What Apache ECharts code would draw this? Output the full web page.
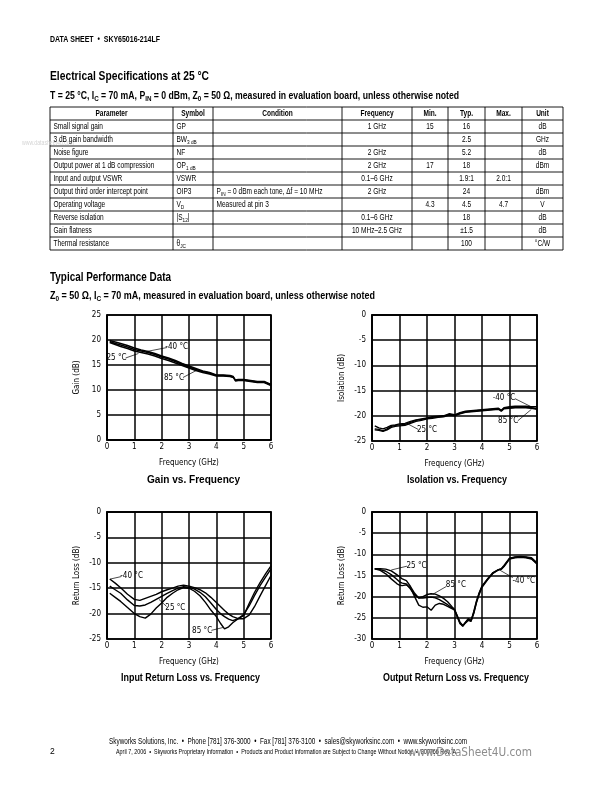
<!DOCTYPE html>
<html><head><meta charset="utf-8">
<script src="https://cdn.jsdelivr.net/npm/echarts@6/dist/echarts.min.js"></script>
<style>html,body{margin:0;padding:0;background:#fff}#c{width:612px;height:792px}</style>
</head><body><div id="c"></div><script>
// ---------------- DATA ----------------
const tableHeader = ["Parameter","Symbol","Condition","Frequency","Min.","Typ.","Max.","Unit"];
const tableParams = ["Small signal gain","3 dB gain bandwidth","Noise figure","Output power at 1 dB compression","Input and output VSWR","Output third order intercept point","Operating voltage","Reverse isolation","Gain flatness","Thermal resistance"];
const tableSymbols = ["GP","BW{sub|3 dB}","NF","OP{sub|1 dB}","VSWR","OIP3","V{sub|D}","|S{sub|12}|","","θ{sub|JC}"];
const tableConditions = ["","","","","","P{sub|IN} = 0 dBm each tone, Δf = 10 MHz","Measured at pin 3","","",""];
const tableFreq = ["1 GHz","","2 GHz","2 GHz","0.1–6 GHz","2 GHz","","0.1–6 GHz","10 MHz–2.5 GHz",""];
const tableMin = ["15","","","17","","","4.3","","",""];
const tableTyp = ["16","2.5","5.2","18","1.9:1","24","4.5","18","±1.5","100"];
const tableMax = ["","","","","2.0:1","","4.7","","",""];
const tableUnit = ["dB","GHz","dB","dBm","","dBm","V","dB","dB","°C/W"];

const freqTicks = [0,1,2,3,4,5,6];

const gainFreq = [0.1,0.3,0.5,0.75,1.0,1.25,1.5,1.75,2.0,2.25,2.5,2.75,3.0,3.25,3.5,3.75,4.0,4.25,4.5,4.62,4.7,4.8,5.0,5.25,5.5,5.75,6.0];
const gainM40 = [19.9,19.6,19.3,18.9,18.4,18.0,17.7,17.3,16.8,16.4,15.9,15.3,14.8,14.3,13.8,13.5,13.0,13.0,12.9,12.7,12.0,12.1,12.1,11.9,11.7,11.7,11.1];
const gain25 = [19.7,19.3,19.0,18.6,18.1,17.8,17.5,17.1,16.6,16.2,15.7,15.1,14.6,14.1,13.7,13.4,12.9,12.9,12.8,12.6,11.9,12.0,12.0,11.8,11.6,11.6,11.0];
const gain85 = [19.5,19.1,18.7,18.3,17.8,17.5,17.2,16.8,16.3,15.9,15.4,14.9,14.4,13.9,13.5,13.2,12.8,12.8,12.7,12.5,11.8,11.9,11.9,11.7,11.5,11.5,10.9];

const isoFreq = [0.1,0.25,0.4,0.55,0.7,0.85,1.0,1.2,1.4,1.6,1.8,2.0,2.2,2.4,2.6,2.8,3.0,3.2,3.4,3.6,3.8,4.0,4.2,4.4,4.6,4.7,4.8,5.0,5.2,5.4,5.6,5.8,6.0];
const isoM40 = [-22.0,-22.4,-22.6,-22.3,-21.9,-21.8,-21.6,-21.5,-21.1,-20.8,-20.6,-20.4,-20.2,-20.1,-20.0,-19.6,-19.8,-19.4,-19.1,-19.0,-18.9,-18.8,-18.7,-18.6,-18.5,-18.9,-18.4,-18.2,-18.1,-18.1,-18.1,-18.2,-18.2];
const iso25 = [-22.6,-22.7,-23.0,-22.6,-22.1,-21.9,-21.8,-21.7,-21.3,-20.9,-20.7,-20.5,-20.3,-20.2,-20.1,-19.7,-19.9,-19.5,-19.2,-19.1,-19.0,-18.9,-18.8,-18.7,-18.6,-19.0,-18.5,-18.4,-18.3,-18.3,-18.3,-18.4,-18.6];
const iso85 = [-22.8,-22.9,-23.1,-22.8,-22.3,-22.1,-22.0,-21.9,-21.5,-21.1,-20.9,-20.6,-20.5,-20.3,-20.2,-19.9,-20.0,-19.6,-19.3,-19.2,-19.1,-19.0,-18.9,-18.8,-18.7,-19.1,-18.6,-18.5,-18.4,-18.4,-18.4,-18.5,-18.7];

const inFreq = [0.1,0.3,0.5,0.75,1.0,1.2,1.4,1.6,1.8,2.0,2.2,2.4,2.6,2.8,3.0,3.2,3.4,3.6,3.8,4.0,4.15,4.3,4.45,4.6,4.8,5.0,5.2,5.4,5.6,5.8,6.0];
const inM40 = [-13.2,-14.0,-14.9,-16.2,-17.2,-17.4,-17.0,-16.6,-16.2,-15.7,-15.3,-15.0,-14.6,-14.4,-14.6,-14.9,-15.3,-15.9,-16.8,-17.8,-18.6,-19.4,-20.1,-20.6,-21.0,-21.0,-20.3,-18.6,-16.5,-14.5,-12.5];
const in25 = [-14.6,-15.3,-16.0,-17.3,-18.4,-18.5,-18.3,-17.8,-17.2,-16.6,-16.0,-15.5,-15.0,-14.7,-14.8,-15.2,-15.8,-16.7,-17.9,-19.2,-20.0,-20.6,-21.1,-21.4,-21.0,-20.2,-18.5,-16.4,-14.5,-12.8,-11.2];
const in85 = [-16.0,-16.8,-17.6,-18.8,-20.0,-20.6,-20.9,-20.1,-18.9,-17.9,-16.8,-16.0,-15.3,-14.9,-15.0,-15.6,-16.5,-17.8,-19.3,-20.6,-21.9,-23.0,-22.6,-21.8,-21.0,-20.4,-18.0,-15.8,-13.9,-12.2,-10.6];

const outFreq = [0.1,0.3,0.5,0.7,0.9,1.0,1.1,1.25,1.4,1.55,1.7,1.85,2.0,2.15,2.3,2.45,2.6,2.75,2.9,3.0,3.1,3.2,3.3,3.4,3.5,3.6,3.7,3.8,3.9,4.0,4.2,4.4,4.6,4.7,4.8,5.0,5.2,5.4,5.6,5.8,6.0];
const out25 = [-13.4,-13.4,-13.5,-13.9,-14.8,-15.3,-15.8,-16.2,-17.6,-19.2,-20.3,-20.0,-19.5,-19.3,-19.4,-19.8,-20.4,-21.2,-22.3,-23.0,-24.5,-26.0,-26.8,-26.2,-25.6,-25.8,-23.5,-21.0,-19.0,-17.5,-15.8,-14.3,-13.6,-13.4,-12.6,-10.9,-10.6,-10.5,-10.6,-10.8,-12.0];
const out85 = [-13.4,-13.6,-14.0,-14.8,-15.9,-16.5,-16.8,-17.0,-18.2,-19.6,-20.3,-20.3,-20.2,-20.1,-20.3,-20.7,-21.3,-21.9,-22.6,-23.1,-24.6,-26.2,-27.0,-26.1,-25.3,-25.8,-24.0,-21.2,-19.2,-17.6,-15.9,-14.4,-13.7,-13.5,-12.8,-11.0,-10.7,-10.6,-10.7,-11.0,-12.2];
const outM40 = [-13.4,-13.8,-14.6,-15.8,-16.9,-17.3,-17.4,-17.2,-17.9,-20.0,-22.0,-22.5,-22.4,-23.2,-22.0,-21.6,-21.8,-22.3,-22.8,-23.2,-24.8,-26.4,-26.9,-26.0,-25.2,-25.6,-23.8,-21.4,-19.4,-17.8,-16.0,-14.5,-13.6,-13.5,-12.9,-11.1,-10.8,-10.7,-10.8,-11.1,-12.3];

// annotations: [text, textX, textY, leaderFromX, leaderFromY, leaderToX, leaderToY] (data units)
const gainNotes = [["-40 °C",2.55,18.7,2.2,18.5,1.45,17.7],["25 °C",0.35,16.4,0.68,16.4,1.15,17.3],["85 °C",2.45,12.4,2.78,12.5,3.3,14.0]];
const isoNotes = [["-40 °C",4.8,-16.5,5.2,-16.6,5.75,-18.1],["85 °C",4.95,-21.0,5.3,-21.0,5.8,-18.7],["25 °C",2.0,-22.9,1.68,-22.7,1.3,-21.6]];
const inNotes = [["-40 °C",0.9,-12.5,0.53,-12.7,0.12,-13.2],["25 °C",2.5,-18.8,2.18,-18.6,1.9,-17.2],["85 °C",3.48,-23.4,3.82,-23.3,4.27,-22.7]];
const outNotes = [["25 °C",1.62,-12.7,1.27,-12.8,0.7,-13.7],["85 °C",3.05,-17.3,2.7,-17.6,2.22,-19.4],["-40 °C",5.52,-16.2,5.12,-15.5,4.64,-13.7]];

// ---------------- STYLE / LAYOUT ----------------
const FN = "'Liberation Sans Narrow','Arial Narrow','DejaVu Sans Condensed','Liberation Sans',sans-serif";
const HF = "'Liberation Sans',Arial,sans-serif";
const chart = echarts.init(document.getElementById('c'), null, {renderer:'canvas'});

const grids = [
  {left:107, top:315, width:164, height:125},
  {left:372, top:315, width:165, height:126},
  {left:107, top:512, width:164, height:127},
  {left:372, top:512, width:165, height:127}
];
const yCfg = [
  {min:0, max:25, name:'Gain (dB)'},
  {min:-25, max:0, name:'Isolation (dB)'},
  {min:-25, max:0, name:'Return Loss (dB)'},
  {min:-30, max:0, name:'Return Loss (dB)'}
];

function zip(xs, ys){ return xs.map((x,i)=>[x, ys[i]]); }

const xAxes = grids.map((g,i)=>({
  type:'value', gridIndex:i, min:freqTicks[0], max:freqTicks[freqTicks.length-1], interval:1,
  name:'Frequency (GHz)', nameLocation:'middle', nameGap:19,
  nameTextStyle:{fontFamily:FN, fontSize:8, color:'#000'},
  axisLine:{show:true, lineStyle:{color:'#000', width:1.5}},
  axisTick:{show:false},
  splitLine:{show:true, lineStyle:{color:'#000', width:1.5}},
  axisLabel:{fontFamily:FN, fontSize:8, color:'#000', margin:3}
}));
const yAxes = grids.map((g,i)=>({
  type:'value', gridIndex:i, min:yCfg[i].min, max:yCfg[i].max, interval:5,
  name:yCfg[i].name, nameLocation:'middle', nameGap:26, nameRotate:90,
  nameTextStyle:{fontFamily:FN, fontSize:8, color:'#000'},
  axisLine:{show:true, lineStyle:{color:'#000', width:1.5}},
  axisTick:{show:false},
  splitLine:{show:true, lineStyle:{color:'#000', width:1.5}},
  axisLabel:{fontFamily:FN, fontSize:8, color:'#000', margin:6}
}));

function lineSeries(gi, xs, ys, note){
  const s = {
    type:'line', xAxisIndex:gi, yAxisIndex:gi, data:zip(xs, ys), showSymbol:false, symbol:'none',
    lineStyle:{color:'#000', width:1.4}, animation:false, silent:true, z:3
  };
  if (note){
    s.markLine = {silent:true, symbol:['none','none'], animation:false,
      lineStyle:{color:'#000', width:0.7, type:'solid'}, label:{show:false},
      data:[[{coord:[note[3],note[4]]},{coord:[note[5],note[6]]}]]};
    s.markPoint = {silent:true, symbol:'circle', symbolSize:0, animation:false,
      label:{show:true, position:'inside', formatter:note[0], color:'#000', fontFamily:FN, fontSize:8},
      data:[{coord:[note[1],note[2]]}]};
  }
  return s;
}

const series = [
  lineSeries(0, gainFreq, gainM40, gainNotes[0]),
  lineSeries(0, gainFreq, gain25, gainNotes[1]),
  lineSeries(0, gainFreq, gain85, gainNotes[2]),
  lineSeries(1, isoFreq, isoM40, isoNotes[0]),
  lineSeries(1, isoFreq, iso85, isoNotes[1]),
  lineSeries(1, isoFreq, iso25, isoNotes[2]),
  lineSeries(2, inFreq, inM40, inNotes[0]),
  lineSeries(2, inFreq, in25, inNotes[1]),
  lineSeries(2, inFreq, in85, inNotes[2]),
  lineSeries(3, outFreq, out25, outNotes[0]),
  lineSeries(3, outFreq, out85, outNotes[1]),
  lineSeries(3, outFreq, outM40, outNotes[2])
];

// ------------- graphic text helpers -------------
const mctx = document.createElement('canvas').getContext('2d');
function tokens(text){
  const re = /\{(\w+)\|([^}]*)\}/g; const parts = []; let last = 0, m;
  while ((m = re.exec(text))){ if (m.index > last) parts.push(['n', text.slice(last, m.index)]); parts.push([m[1], m[2]]); last = re.lastIndex; }
  if (last < text.length) parts.push(['n', text.slice(last)]);
  return parts;
}
function T(x, y, text, o){
  o = o || {};
  const size = o.size || 8, weight = o.weight || 'normal', fam = o.family || HF;
  const subSize = Math.round(size*0.72*10)/10;
  const parts = tokens(text);
  const rt = parts.map(p => '{' + p[0] + '|' + p[1] + '}').join('');
  let sx = o.scale || 1;
  if (o.w){
    let w = 0;
    parts.forEach(p => { mctx.font = weight + ' ' + (p[0]==='sub'?subSize:size) + 'px ' + fam; w += mctx.measureText(p[1]).width; });
    sx = o.w / w;
  }
  return {type:'text', x:x, y:y, scaleX:sx, silent:true, z:10,
    style:{text:rt, fontFamily:fam, fontSize:size, fontWeight:weight, fill:o.color||'#000',
      textAlign:o.align||'left', textVerticalAlign:'middle',
      rich:{
        n:{fontFamily:fam, fontSize:size, fontWeight:weight, lineHeight:size+3, fill:o.color||'#000'},
        sub:{fontFamily:fam, fontSize:subSize, fontWeight:weight, lineHeight:subSize+1, verticalAlign:'bottom', fill:o.color||'#000'}
      }}};
}

const els = [];
els.push(T(50, 40, 'DATA SHEET  •  SKY65016-214LF', {size:8.5, weight:'bold', w:110}));
els.push(T(50, 76.5, 'Electrical Specifications at 25 °C', {size:13, weight:'bold', w:159}));
els.push(T(50, 96, 'T = 25 °C, I{sub|C} = 70 mA, P{sub|IN} = 0 dBm, Z{sub|0} = 50 Ω, measured in evaluation board, unless otherwise noted', {size:10, weight:'bold', w:409}));
els.push(T(22, 143, 'www.datasheet4u.com', {size:7, color:'#d4d4d4', w:52}));

// table
const cols = [50,173,213,342,412,448,485,522,563];
const tTop = 107, rowH = 13, nRows = tableParams.length + 1;
for (let r=0; r<=nRows; r++){
  els.push({type:'line', silent:true, z:9, shape:{x1:cols[0], y1:tTop+r*rowH, x2:cols[cols.length-1], y2:tTop+r*rowH}, style:{stroke:'#000', lineWidth:0.9}});
}
for (let c=0; c<cols.length; c++){
  els.push({type:'line', silent:true, z:9, shape:{x1:cols[c], y1:tTop, x2:cols[c], y2:tTop+nRows*rowH}, style:{stroke:'#000', lineWidth:0.9}});
}
tableHeader.forEach((h,c)=>{
  els.push(T((cols[c]+cols[c+1])/2, tTop+rowH/2+0.5, h, {size:8.2, weight:'bold', align:'center', scale:0.8}));
});
const colData = [tableParams, tableSymbols, tableConditions, tableFreq, tableMin, tableTyp, tableMax, tableUnit];
const leftCols = [true, true, true, false, false, false, false, false];
for (let r=0; r<tableParams.length; r++){
  const yy = tTop + (r+1)*rowH + rowH/2 + 0.5;
  colData.forEach((arr,c)=>{
    const v = arr[r]; if (!v) return;
    if (leftCols[c]) els.push(T(cols[c]+3.5, yy, v, {size:8.2, scale:0.8}));
    else els.push(T((cols[c]+cols[c+1])/2, yy, v, {size:8.2, align:'center', scale:0.8}));
  });
}

els.push(T(50, 277, 'Typical Performance Data', {size:13, weight:'bold', w:121}));
els.push(T(50, 296.5, 'Z{sub|0} = 50 Ω, I{sub|C} = 70 mA, measured in evaluation board, unless otherwise noted', {size:10, weight:'bold', w:325}));

els.push(T(193.5, 479.5, 'Gain vs. Frequency', {size:11.5, weight:'bold', align:'center', w:93}));
els.push(T(457, 479.5, 'Isolation vs. Frequency', {size:11.5, weight:'bold', align:'center', w:100}));
els.push(T(190.5, 678, 'Input Return Loss vs. Frequency', {size:11.5, weight:'bold', align:'center', w:139}));
els.push(T(456, 678, 'Output Return Loss vs. Frequency', {size:11.5, weight:'bold', align:'center', w:146}));

els.push(T(288, 741.5, 'Skyworks Solutions, Inc.  •  Phone [781] 376-3000  •  Fax [781] 376-3100  •  sales@skyworksinc.com  •  www.skyworksinc.com', {size:8.5, align:'center', w:358}));
els.push(T(286, 752.5, 'April 7, 2006  •  Skyworks Proprietary Information  •  Products and Product Information are Subject to Change Without Notice  •  200766 Rev. A', {size:7, align:'center', w:340}));
els.push(T(50, 752, '2', {size:8.5}));
els.push(T(408, 753, 'www.DataSheet4U.com', {size:12, color:'#8c8c8c', family:"'DejaVu Sans',sans-serif", w:124}));

chart.setOption({
  backgroundColor:'#fff',
  animation:false,
  grid: grids.map(g=>Object.assign({show:true, borderColor:'#000', borderWidth:1.7, backgroundColor:'transparent', containLabel:false}, g)),
  xAxis: xAxes,
  yAxis: yAxes,
  series: series,
  graphic: els
});
</script></body></html>
